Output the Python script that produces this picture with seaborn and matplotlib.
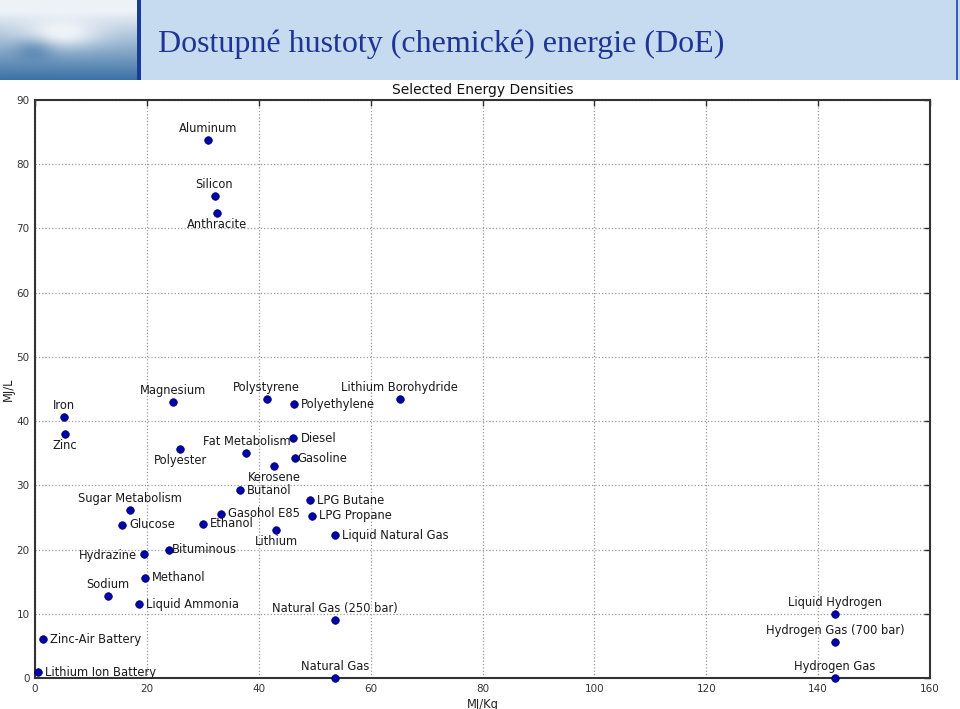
import numpy as np
import pandas as pd
import matplotlib
matplotlib.use("Agg")
import matplotlib.pyplot as plt
from matplotlib.patches import Rectangle
import seaborn as sns

# ---- data ----
materials = ["Aluminum", "Silicon", "Anthracite", "Iron", "Zinc", "Magnesium",
             "Polystyrene", "Polyethylene", "Lithium Borohydride", "Diesel",
             "Gasoline", "Fat Metabolism", "Polyester", "Kerosene", "Butanol",
             "LPG Butane", "LPG Propane", "Liquid Natural Gas", "Sugar Metabolism",
             "Glucose", "Gasohol E85", "Ethanol", "Lithium", "Hydrazine",
             "Bituminous", "Methanol", "Sodium", "Liquid Ammonia",
             "Natural Gas (250 bar)", "Zinc-Air Battery", "Lithium Ion Battery",
             "Natural Gas", "Liquid Hydrogen", "Hydrogen Gas (700 bar)", "Hydrogen Gas"]
mj_per_kg = [31.0, 32.1, 32.5, 5.2, 5.3, 24.7,
             41.4, 46.3, 65.2, 46.2,
             46.4, 37.8, 26.0, 42.8, 36.6,
             49.1, 49.6, 53.6, 17.0,
             15.6, 33.2, 30.0, 43.1, 19.5,
             24.0, 19.7, 13.0, 18.6,
             53.6, 1.4, 0.5,
             53.6, 143.0, 143.0, 143.0]
mj_per_l = [83.8, 75.1, 72.4, 40.6, 38.0, 43.0,
            43.5, 42.6, 43.4, 37.3,
            34.2, 35.0, 35.6, 33.0, 29.2,
            27.7, 25.3, 22.2, 26.2,
            23.9, 25.6, 24.0, 23.0, 19.3,
            20.0, 15.6, 12.8, 11.5,
            9.0, 6.0, 0.9,
            0.0, 10.0, 5.6, 0.0]

x_ticks = [0, 20, 40, 60, 80, 100, 120, 140, 160]
y_ticks = [0, 10, 20, 30, 40, 50, 60, 70, 80, 90]

# ---- label placement (style) ----
above = {"Aluminum", "Silicon", "Iron", "Magnesium", "Polystyrene", "Lithium Borohydride",
         "Fat Metabolism", "Sugar Metabolism", "Sodium", "Natural Gas (250 bar)",
         "Natural Gas", "Liquid Hydrogen", "Hydrogen Gas (700 bar)", "Hydrogen Gas"}
below = {"Anthracite", "Zinc", "Polyester", "Kerosene", "Lithium"}
left = {"Hydrazine"}
tight_right = {"Gasoline", "Bituminous"}

df = pd.DataFrame({"material": materials, "MJ/Kg": mj_per_kg, "MJ/L": mj_per_l})

sns.set_style("white")
plt.rcParams["font.family"] = ["DejaVu Sans"]

W, H = 960, 709
fig = plt.figure(figsize=(W / 100, H / 100), dpi=100)

# ---- slide header ----
hb = 80 / H
fig.patches.append(Rectangle((0, 1 - hb), 1, hb, transform=fig.transFigure,
                             facecolor="#c6dbf0", edgecolor="none", zorder=-5))
img_ax = fig.add_axes([0, 1 - hb, 137 / W, hb], zorder=5)
yy, xx = np.mgrid[0:1:80j, 0:1:137j]
base = np.clip(yy * 1.1 - 0.15 + 0.25 * np.exp(-((xx - 0.25) ** 2) / 0.02 - ((yy - 0.6) ** 2) / 0.02), 0, 1)
cloud = np.exp(-((xx - 0.45) ** 2) / 0.08 - ((yy - 0.45) ** 2) / 0.03)
t = np.clip(base - 0.35 * cloud, 0, 1)
top = np.array([0.93, 0.95, 0.97])
bot = np.array([0.20, 0.42, 0.63])
rgb = top[None, None, :] * (1 - t[..., None]) + bot[None, None, :] * t[..., None]
img_ax.imshow(rgb, aspect="auto", interpolation="bilinear")
img_ax.axis("off")
fig.patches.append(Rectangle((137 / W, 1 - hb), 4 / W, hb, transform=fig.transFigure,
                             facecolor="#1a3a9a", edgecolor="none", zorder=6))
fig.patches.append(Rectangle((956 / W, 1 - hb), 2 / W, hb, transform=fig.transFigure,
                             facecolor="#3a5fb0", edgecolor="none", zorder=6))
fig.text(158 / W, 1 - 44 / H, "Dostupné hustoty (chemické) energie (DoE)",
         family=["Liberation Serif", "DejaVu Serif"], fontsize=23, color="#1f3494",
         va="center", ha="left", zorder=7)

# ---- chart ----
ax = fig.add_axes([35 / W, 1 - 678 / H, (930 - 35) / W, (678 - 100) / H])
sns.scatterplot(data=df, x="MJ/Kg", y="MJ/L", ax=ax, color="#0000a8", s=30,
                edgecolor="#000060", linewidth=0.5, zorder=3, clip_on=False)
ax.set_xlim(0, 160)
ax.set_ylim(0, 90)
ax.set_xticks(x_ticks)
ax.set_yticks(y_ticks)
ax.grid(True, linestyle=":", color="#999999", linewidth=0.9)
ax.set_axisbelow(True)
for sp in ax.spines.values():
    sp.set_color("#333333")
    sp.set_linewidth(1.5)
ax.tick_params(axis="both", direction="in", length=4, width=1, colors="#333333",
               labelsize=7.5, labelcolor="#333333", top=True, right=True, pad=4)
ax.set_xlabel("MJ/Kg", fontsize=8.3, color="#222222", labelpad=3)
ax.set_ylabel("MJ/L", fontsize=8.3, color="#222222", labelpad=1)
ax.set_title("Selected Energy Densities", fontsize=10, color="#111111", pad=4)

for name, xv, yv in zip(materials, mj_per_kg, mj_per_l):
    if name in above:
        off, ha, va = (0, 3.5), "center", "bottom"
    elif name in below:
        off, ha, va = (0, -3.5), "center", "top"
    elif name in left:
        off, ha, va = (-5, -1), "right", "center"
    elif name in tight_right:
        off, ha, va = (2, 0), "left", "center"
    else:
        off, ha, va = (5, 0), "left", "center"
    ax.annotate(name, (xv, yv), xytext=off, textcoords="offset points",
                ha=ha, va=va, fontsize=8.3, color="#1a1a1a", zorder=4,
                annotation_clip=False)

fig.savefig("out.png", dpi=100)
